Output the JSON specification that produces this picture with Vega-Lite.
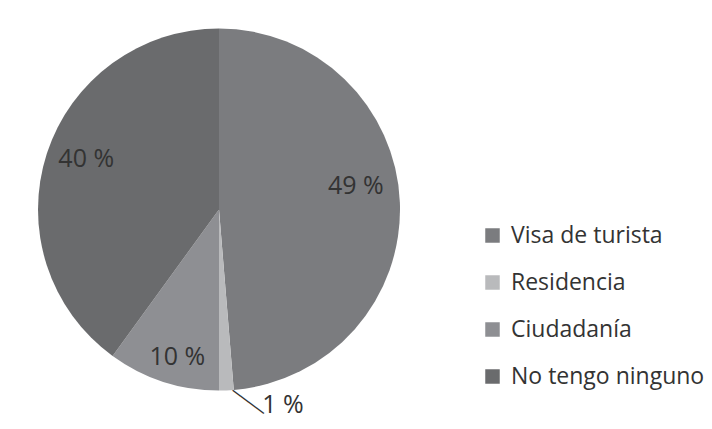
{
  "$schema": "https://vega.github.io/schema/vega-lite/v6.json",
  "width": 438,
  "height": 419,
  "padding": {"left": 0, "top": 0, "right": 0, "bottom": 10},
  "background": "white",
  "config": {"view": {"stroke": null}, "font": "Open Sans"},
  "data": {
    "values": [
      {"cat": "Visa de turista", "value": 48.7, "label": "49 %", "order": 1},
      {"cat": "Residencia", "value": 1.3, "label": "1 %", "order": 2},
      {"cat": "Ciudadanía", "value": 10, "label": "10 %", "order": 3},
      {"cat": "No tengo ninguno", "value": 40, "label": "40 %", "order": 4}
    ]
  },
  "encoding": {
    "theta": {"field": "value", "type": "quantitative", "stack": true},
    "order": {"field": "order", "type": "quantitative"}
  },
  "layer": [
    {
      "mark": {"type": "arc", "radius": 181},
      "encoding": {
        "color": {
          "field": "cat",
          "type": "nominal",
          "sort": ["Visa de turista", "Residencia", "Ciudadanía", "No tengo ninguno"],
          "scale": {
            "domain": ["Visa de turista", "Residencia", "Ciudadanía", "No tengo ninguno"],
            "range": ["#7b7c7f", "#b9babc", "#8e8f93", "#6a6b6d"]
          },
          "legend": {
            "title": null,
            "orient": "none",
            "legendX": 481,
            "legendY": 224,
            "symbolType": "square",
            "symbolSize": 210,
            "symbolStrokeWidth": 0,
            "labelFontSize": 23,
            "labelFont": "Open Sans",
            "labelColor": "#333333",
            "labelOffset": 7,
            "rowPadding": 23,
            "labelLimit": 300
          }
        }
      }
    },
    {
      "mark": {"type": "text", "radius": 140, "fontSize": 25, "color": "#333333", "dx": -3, "dy": -18},
      "encoding": {
        "text": {"field": "label"},
        "opacity": {"condition": {"test": "datum.cat === 'Visa de turista'", "value": 1}, "value": 0}
      }
    },
    {
      "mark": {"type": "text", "radius": 148, "fontSize": 25, "color": "#333333", "dx": 8, "dy": -5},
      "encoding": {
        "text": {"field": "label"},
        "opacity": {"condition": {"test": "datum.cat === 'No tengo ninguno'", "value": 1}, "value": 0}
      }
    },
    {
      "mark": {"type": "text", "radius": 148, "fontSize": 25, "color": "#333333", "dx": 4, "dy": 7},
      "encoding": {
        "text": {"field": "label"},
        "opacity": {"condition": {"test": "datum.cat === 'Ciudadanía'", "value": 1}, "value": 0}
      }
    },
    {
      "mark": {"type": "text", "radius": 196, "fontSize": 25, "color": "#333333", "dx": 56},
      "encoding": {
        "text": {"field": "label"},
        "opacity": {"condition": {"test": "datum.cat === 'Residencia'", "value": 1}, "value": 0}
      }
    },
    {
      "mark": {"type": "text", "radius": 196, "fontSize": 16, "font": "DejaVu Sans Mono", "color": "#333333", "angle": 36.6, "dx": 15, "dy": -15, "text": "────"},
      "encoding": {
        "opacity": {"condition": {"test": "datum.cat === 'Residencia'", "value": 1}, "value": 0}
      }
    }
  ]
}
